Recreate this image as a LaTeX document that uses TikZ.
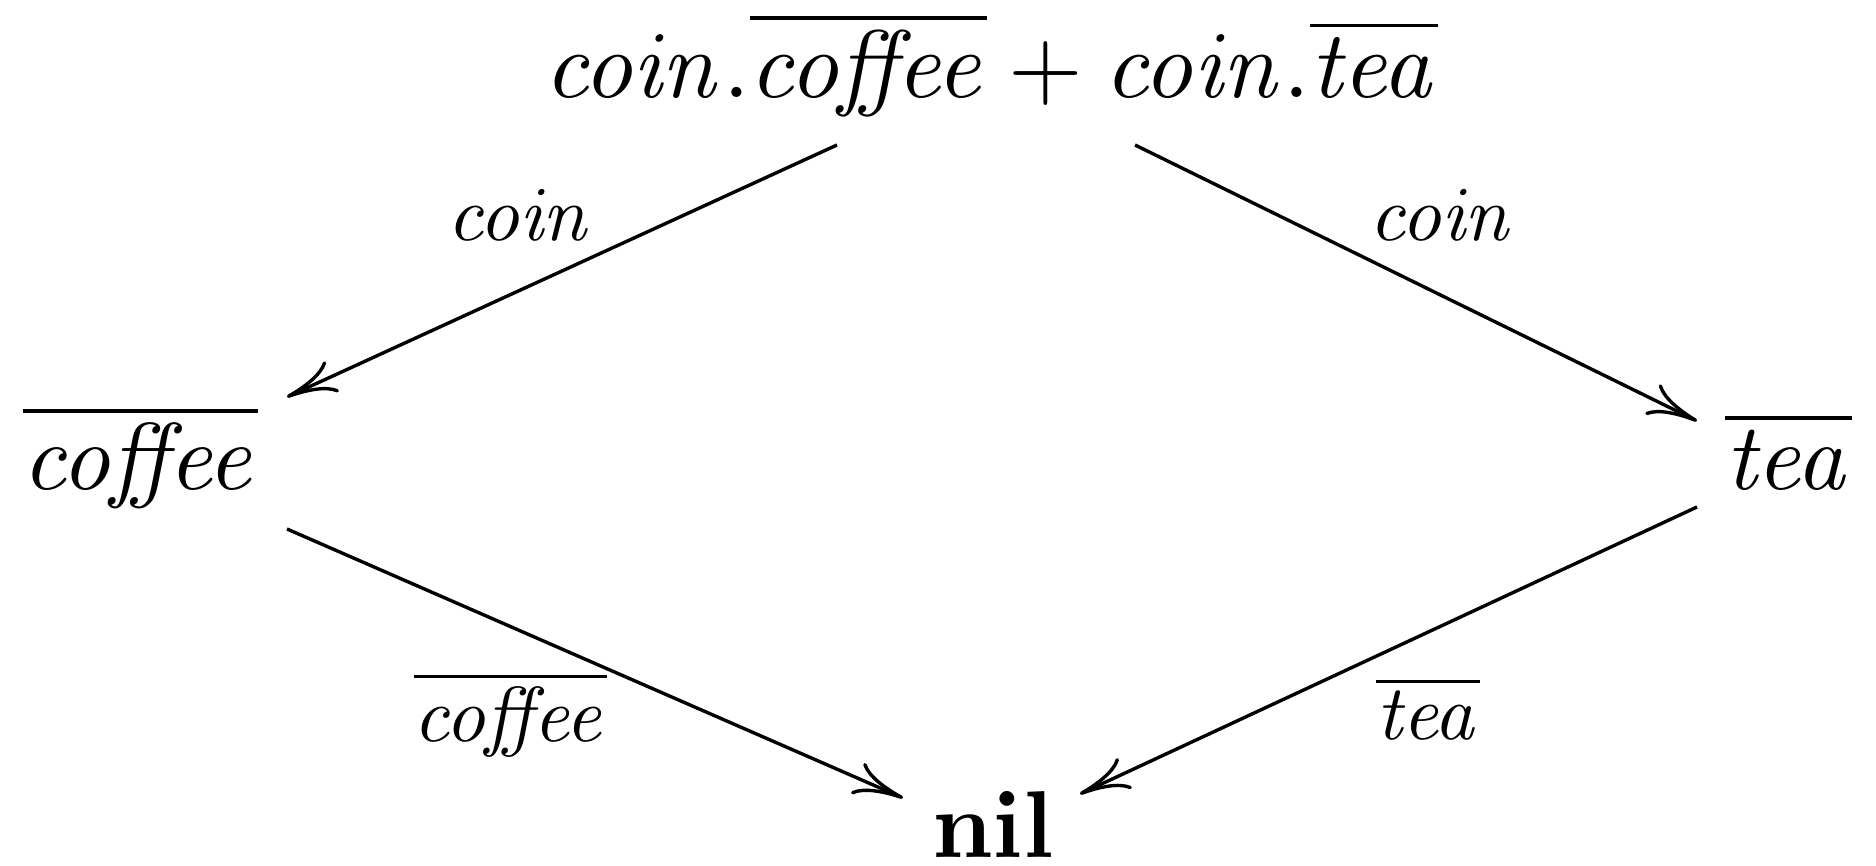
\documentclass[tikz,border=0pt]{standalone}
\usetikzlibrary{arrows.meta}
\tikzset{
  state/.style={anchor=base, inner sep=0pt, scale=0.95},
  lbl/.style={anchor=base, inner sep=0pt, scale=0.78},
  trans/.style={line width=0.34pt, -{Computer Modern Rightarrow[length=5pt,width=3.4pt]}}
}
\begin{document}
\begin{tikzpicture}[x=0.1pt,y=-0.1pt]
\useasboundingbox (0,0) rectangle (1876,866);
\node[state, scale=1.01] (top) at (991,98) {$\mathit{coin}.\overline{\mathit{coffee}} + \mathit{coin}.\overline{\mathit{tea}}$};
\node[state] (left) at (140.5,490) {$\overline{\mathit{coffee}}$};
\node[state] (right) at (1788.5,490) {$\overline{\mathit{tea}}$};
\node[state] (nil) at (993,858) {$\mathbf{nil}$};
\node[lbl] (l1) at (520,241) {$\mathit{coin}$};
\node[lbl] (l2) at (1442,241) {$\mathit{coin}$};
\node[lbl] (l3) at (510.5,742) {$\overline{\mathit{coffee}}$};
\node[lbl] (l4) at (1428,740) {$\overline{\mathit{tea}}$};
\coordinate (a1) at (837,145);
\coordinate (b1) at (287,397);
\coordinate (a2) at (1135,145);
\coordinate (b2) at (1697,421);
\coordinate (a3) at (287,529);
\coordinate (b3) at (903,798);
\coordinate (a4) at (1697,507);
\coordinate (b4) at (1080,794);
\draw[trans] (a1) -- (b1);
\draw[trans] (a2) -- (b2);
\draw[trans] (a3) -- (b3);
\draw[trans] (a4) -- (b4);
\end{tikzpicture}
\end{document}
